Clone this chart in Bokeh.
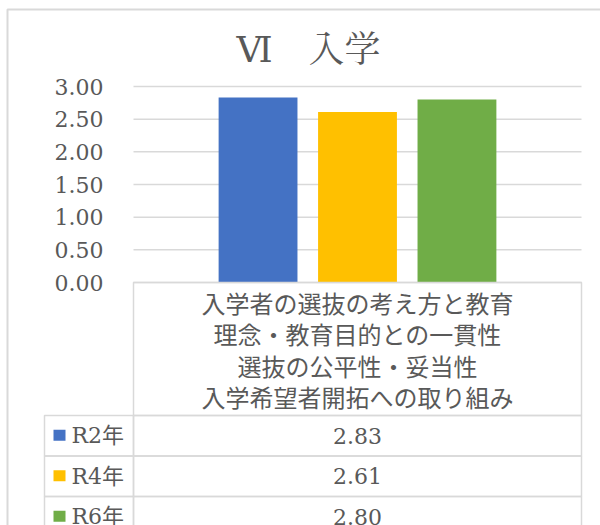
from bokeh.plotting import figure
from bokeh.models import ColumnDataSource, Range1d
from bokeh.core.properties import value
from bokeh.embed import file_html
from bokeh.resources import INLINE

# ---- data ----
title_text = "Ⅵ　入学"
categories = ["入学者の選抜の考え方と教育\n理念・教育目的との一貫性\n選抜の公平性・妥当性\n入学希望者開拓への取り組み"]
years = ["R2年", "R4年", "R6年"]
r2_values = [2.83]
r4_values = [2.61]
r6_values = [2.80]
year_colors = ["#4472C4", "#FFC000", "#70AD47"]
y_ticks = [0.0, 0.5, 1.0, 1.5, 2.0, 2.5, 3.0]

# ---- layout constants (screen px) ----
W, H = 600, 525
FL, FR = 133, 581          # plot area left/right
Y3, Y0 = 86, 282           # pixel rows of value 3 and value 0
PPU = (Y0 - Y3) / 3.0
GRID = "#D9D9D9"
TXT = "#595959"
NUM_FONT = value("DejaVu Serif, Noto Sans CJK JP")
JP_FONT = value("Noto Sans CJK JP")
TITLE_FONT = value("DejaVu Serif, Noto Serif CJK JP, Noto Sans CJK JP")

p = figure(width=W, height=H, output_backend="svg", toolbar_location=None,
           x_range=Range1d(0, W),
           y_range=Range1d((Y0 - H) / PPU, Y0 / PPU),
           x_axis_location=None, y_axis_location=None,
           min_border=0)
p.extra_y_ranges = {"px": Range1d(H, 0)}
p.grid.visible = False
p.outline_line_color = None
p.background_fill_color = "white"
p.border_fill_color = "white"

# chart area border (only left/top edges fall inside the canvas)
p.quad(left=[7], right=[W + 30], top=[9], bottom=[H + 30], y_range_name="px",
       fill_color=None, line_color=GRID, line_width=2)

# title
p.text(x=[308], y=[49], text=[title_text], y_range_name="px",
       text_align="center", text_baseline="middle", text_font=TITLE_FONT,
       text_font_size="36px", text_color=TXT)

# gridlines and y tick labels (value scale)
p.segment(x0=FL, x1=FR, y0=y_ticks, y1=y_ticks, line_color=GRID, line_width=1.5)
p.text(x=FL - 30, y=y_ticks, text=[f"{t:.2f}" for t in y_ticks],
       text_align="right", text_baseline="middle", text_font=NUM_FONT,
       text_font_size="22px", text_color=TXT)

# bars
series = [r2_values, r4_values, r6_values]
BAND = FR - FL
center = (FL + FR) / 2
offsets = [-0.222, 0.0, 0.222]
bar_src = ColumnDataSource(dict(
    x=[center + o * BAND for o in offsets],
    top=[s[0] for s in series],
    color=year_colors,
    year=years,
))
p.vbar(x="x", top="top", bottom=0, width=0.176 * BAND, source=bar_src,
       fill_color="color", line_color=None)

# data table: category header box
TB = 415
p.quad(left=[FL], right=[FR], top=[Y0], bottom=[TB], y_range_name="px",
       fill_color=None, line_color=GRID, line_width=1.5)
cat_lines = categories[0].split("\n")
LINE_GAP = (TB - Y0 - 8) / len(cat_lines)
line_y = [Y0 + 20 + i * LINE_GAP for i in range(len(cat_lines))]
p.text(x=[center] * len(cat_lines), y=line_y, text=cat_lines, y_range_name="px",
       text_align="center", text_baseline="middle", text_font=JP_FONT,
       text_font_size="24px", text_color=TXT)

# rows
ROW = 40.5
LEG_L = 44
tops = [TB + i * ROW for i in range(len(years))]
bots = [t + ROW for t in tops]
cys = [(t + b) / 2 for t, b in zip(tops, bots)]
p.quad(left=LEG_L, right=FL, top=tops, bottom=bots, y_range_name="px",
       fill_color=None, line_color=GRID, line_width=1.5)
p.quad(left=FL, right=FR, top=tops, bottom=bots, y_range_name="px",
       fill_color=None, line_color=GRID, line_width=1.5)
p.quad(left=53, right=65, top=[c - 6 for c in cys], bottom=[c + 5 for c in cys],
       y_range_name="px", fill_color=year_colors, line_color=None)
p.text(x=71, y=cys, text=years, y_range_name="px", text_align="left",
       text_baseline="middle", text_font=NUM_FONT, text_font_size="22px",
       text_color=TXT)
p.text(x=center, y=cys, text=[f"{s[0]:.2f}" for s in series], y_range_name="px",
       text_align="center", text_baseline="middle", text_font=NUM_FONT,
       text_font_size="22px", text_color=TXT)

open("out.html", "w").write(file_html(p, INLINE))
